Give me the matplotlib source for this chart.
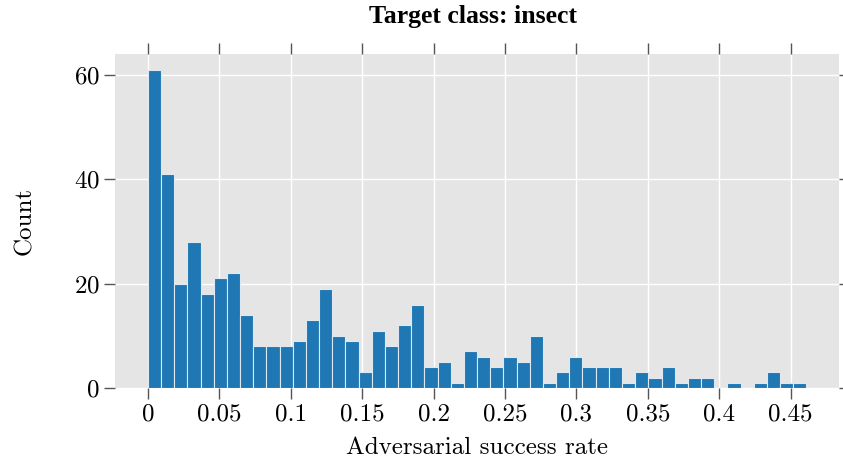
import numpy as np
import matplotlib
matplotlib.use("Agg")
import matplotlib.pyplot as plt
from matplotlib.ticker import FuncFormatter

# histogram of adversarial success rate, 50 bins between 0 and max rate
rate_min = 0.0
rate_max = 0.461
counts = [61, 41, 20, 28, 18, 21, 22, 14, 8, 8,
          8, 9, 13, 19, 10, 9, 3, 11, 8, 12,
          16, 4, 5, 1, 7, 6, 4, 6, 5, 10,
          1, 3, 6, 4, 4, 4, 1, 3, 2, 4,
          1, 2, 2, 0, 1, 0, 1, 3, 1, 1]
xticks = [0, 0.05, 0.1, 0.15, 0.2, 0.25, 0.3, 0.35, 0.4, 0.45]
yticks = [0, 20, 40, 60]

edges = np.linspace(rate_min, rate_max, len(counts) + 1)
centers = 0.5 * (edges[:-1] + edges[1:])

plt.rcParams['font.family'] = 'serif'
plt.rcParams['font.serif'] = ['cmr10', 'DejaVu Serif']
plt.rcParams['axes.formatter.use_mathtext'] = True

fig = plt.figure(figsize=(8.43, 4.59), dpi=100)
ax = fig.add_axes([0.1364, 0.1547, 0.8592, 0.7277])
ax.set_facecolor('#E5E5E5')
ax.set_axisbelow(True)
ax.grid(True, color='white', linewidth=1.0)
for s in ax.spines.values():
    s.set_visible(False)

ax.hist(centers, bins=edges, weights=counts, color='#1f77b4',
        edgecolor='#dfe8f0', linewidth=0.8)

ax.set_xticks(xticks)
ax.set_yticks(yticks)
ax.xaxis.set_major_formatter(FuncFormatter(lambda v, p: '%g' % v))
ax.tick_params(axis='both', which='major', direction='out', length=8,
               width=1, color='#555555', labelsize=18, pad=3,
               top=True, right=True)
ax.set_ylim(0, 64.05)

ax.set_xlabel('Adversarial success rate', fontsize=18, labelpad=8)
ax.set_ylabel('Count', fontsize=18, labelpad=27)
fig.text(0.561, 0.965, 'Target class: insect', ha='center', va='center',
         fontsize=18.5, fontweight='bold', family='Liberation Serif')

fig.savefig('out.png', dpi=100)
